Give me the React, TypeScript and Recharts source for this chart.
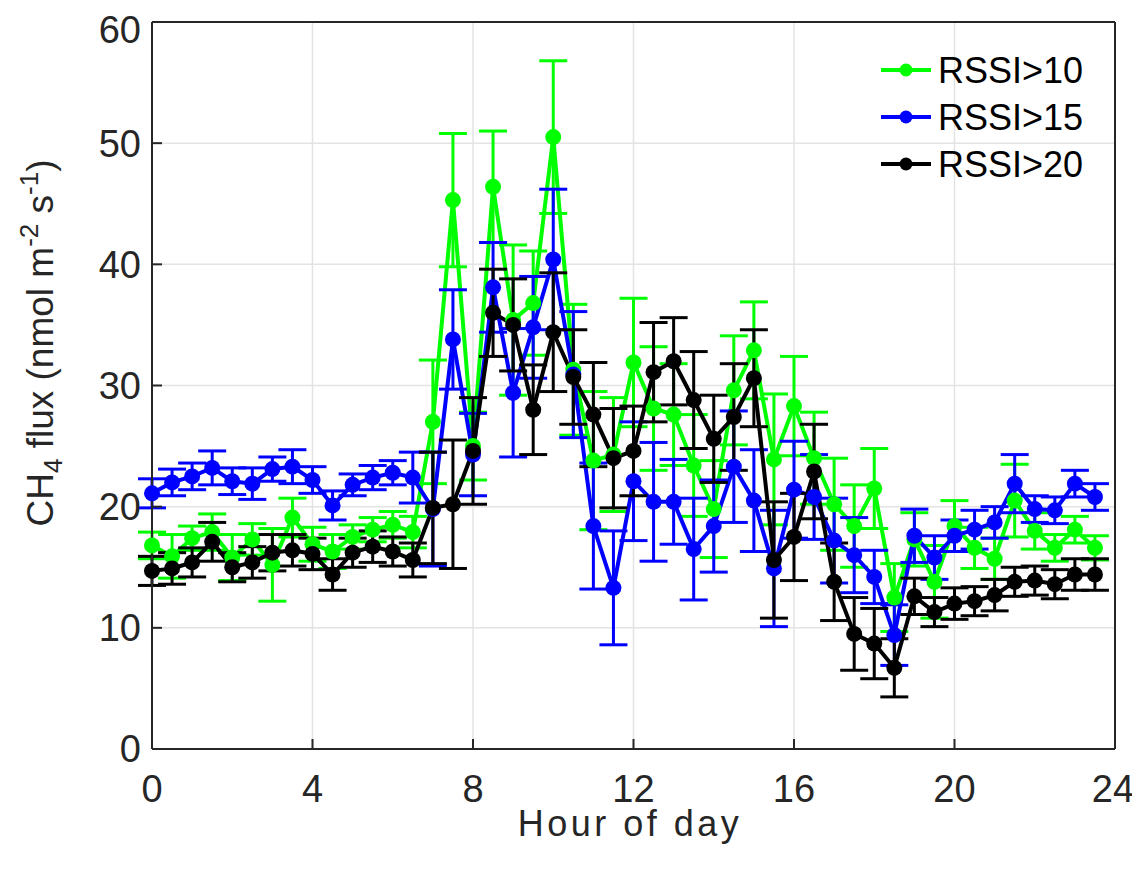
import { ComposedChart, Line, XAxis, YAxis, CartesianGrid, ErrorBar } from "recharts";

const hours = [
  0, 0.5, 1, 1.5, 2, 2.5, 3, 3.5, 4, 4.5, 5, 5.5, 6, 6.5, 7, 7.5, 8, 8.5, 9, 9.5, 10, 10.5, 11, 11.5,
  12, 12.5, 13, 13.5, 14, 14.5, 15, 15.5, 16, 16.5, 17, 17.5, 18, 18.5, 19, 19.5, 20, 20.5, 21, 21.5,
  22, 22.5, 23, 23.5,
];

// RSSI>10
const rssi10 = [
  16.8, 15.9, 17.4, 17.9, 15.8, 17.3, 15.2, 19.1, 16.9, 16.3, 17.5, 18.1, 18.5, 17.9, 27.0, 45.3,
  25.0, 46.4, 35.4, 36.8, 50.5, 31.3, 23.8, 24.3, 31.9, 28.1, 27.6, 23.4, 19.8, 29.6, 32.9, 23.9,
  28.3, 24.0, 20.2, 18.4, 21.5, 12.5, 17.3, 13.8, 18.4, 16.6, 15.7, 20.5, 18.0, 16.6, 18.1, 16.6,
];
const rssi10Err = [
  1.1, 1.8, 1.0, 1.5, 1.9, 1.3, 3.0, 1.6, 1.4, 1.4, 1.0, 1.0, 1.1, 1.3, 5.1, 5.5,
  2.8, 4.6, 6.2, 4.3, 6.3, 5.4, 5.7, 4.7, 5.3, 5.1, 4.2, 4.2, 4.0, 4.5, 4.0, 5.4,
  4.1, 3.8, 3.8, 3.4, 3.3, 2.8, 2.2, 3.0, 2.1, 1.7, 1.7, 3.0, 1.5, 1.1, 1.1, 1.0,
];

// RSSI>15
const rssi15 = [
  21.1, 22.0, 22.5, 23.2, 22.1, 21.9, 23.1, 23.3, 22.2, 20.1, 21.8, 22.4, 22.8, 22.4, 19.8, 33.8,
  24.3, 38.1, 29.4, 34.8, 40.4, 30.9, 18.4, 13.3, 22.1, 20.4, 20.4, 16.5, 18.4, 23.3, 20.5, 14.9,
  21.4, 20.8, 17.2, 16.0, 14.2, 9.4, 17.6, 15.8, 17.6, 18.1, 18.7, 21.9, 19.8, 19.7, 21.9, 20.8,
];
const rssi15Err = [
  1.2, 1.1, 1.1, 1.4, 1.1, 1.3, 1.0, 1.4, 1.1, 1.2, 0.9, 1.0, 1.0, 2.1, 4.7, 4.1,
  3.4, 3.7, 5.3, 4.2, 5.8, 5.2, 5.2, 4.7, 4.9, 4.9, 3.5, 4.2, 3.8, 4.6, 4.2, 4.8,
  4.0, 3.5, 3.5, 3.1, 2.2, 2.5, 2.2, 1.8, 1.3, 1.6, 1.3, 2.4, 1.1, 1.1, 1.1, 1.1,
];

// RSSI>20
const rssi20 = [
  14.7, 14.9, 15.4, 17.1, 15.0, 15.4, 16.2, 16.4, 16.1, 14.4, 16.2, 16.7, 16.3, 15.6, 19.9, 20.2,
  24.6, 36.0, 35.0, 28.0, 34.4, 30.7, 27.6, 24.0, 24.6, 31.1, 32.0, 28.8, 25.6, 27.4, 30.6, 15.6,
  17.5, 22.9, 13.8, 9.5, 8.7, 6.7, 12.6, 11.3, 12.0, 12.2, 12.7, 13.8, 13.9, 13.6, 14.4, 14.4,
];
const rssi20Err = [
  1.2, 1.3, 1.2, 1.6, 1.2, 1.3, 1.5, 1.3, 1.3, 1.3, 1.2, 1.3, 1.2, 1.4, 4.6, 5.3,
  4.4, 3.6, 3.8, 3.7, 4.9, 3.9, 4.3, 4.1, 3.7, 4.1, 3.6, 4.0, 3.6, 4.4, 4.0, 4.8,
  3.6, 3.9, 3.2, 3.0, 2.9, 2.4, 1.5, 1.2, 1.3, 1.2, 1.3, 1.2, 1.2, 1.2, 1.3, 1.3,
];

const xTicks = [0, 4, 8, 12, 16, 20, 24];
const yTicks = [0, 10, 20, 30, 40, 50, 60];

const series = [
  { key: "g", name: "RSSI>10", color: "#00ff00" },
  { key: "b", name: "RSSI>15", color: "#0000ff" },
  { key: "k", name: "RSSI>20", color: "#000000" },
];

const data = hours.map((h, i) => ({
  hour: h,
  g: rssi10[i],
  gErr: rssi10Err[i],
  b: rssi15[i],
  bErr: rssi15Err[i],
  k: rssi20[i],
  kErr: rssi20Err[i],
}));

const FONT = "'Liberation Sans', Arial, sans-serif";
const AXIS = "#262626";

const LegendBox = () => (
  <svg width={260} height={160} style={{ position: "absolute", left: 860, top: 30 }}>
    {series.map((s, i) => {
      const cy = 32 + i * 47;
      return (
        <g key={s.key}>
          <line x1={13} x2={63} y1={cy} y2={cy} stroke={s.color} strokeWidth={4} />
          <circle cx={38} cy={cy} r={6.5} fill={s.color} />
          <text x={70} y={cy + 12.5} fontSize={36} fontFamily={FONT} fill="#000">
            {s.name}
          </text>
        </g>
      );
    })}
  </svg>
);

const YLabel = () => (
  <text
    x={45}
    y={335}
    transform="rotate(-90, 45, 335)"
    textAnchor="middle"
    fontSize={37}
    fontFamily={FONT}
    fill={AXIS}
  >
    CH
    <tspan fontSize={26} dy={9}>4</tspan>
    <tspan dy={-9}> flux (nmol m</tspan>
    <tspan fontSize={26} dy={-15}>-2</tspan>
    <tspan dy={15}> s</tspan>
    <tspan fontSize={26} dy={-15}>-1</tspan>
    <tspan dy={15}>)</tspan>
  </text>
);

const XLabel = () => (
  <text
    x={622}
    y={828}
    textAnchor="middle"
    fontSize={36}
    fontFamily={FONT}
    fill={AXIS}
    style={{ letterSpacing: "3.5px" }}
  >
    Hour of day
  </text>
);

export default function App() {
  return (
    <div style={{ position: "relative", width: 1124, height: 853 }}>
      <ComposedChart
        width={1124}
        height={853}
        data={data}
        margin={{ top: 13, right: 16, bottom: 12, left: 44 }}
        style={{ background: "#fff" }}
      >
        <CartesianGrid stroke="#e3e3e3" strokeWidth={1.5} />
        <XAxis
          dataKey="hour"
          type="number"
          domain={[0, 24]}
          ticks={xTicks}
          height={100}
          axisLine={{ stroke: AXIS, strokeWidth: 2 }}
          tickLine={{ stroke: AXIS, strokeWidth: 2 }}
          tickSize={-10}
          tickMargin={36}
          tick={{ fill: AXIS, fontSize: 38, fontFamily: FONT }}
          label={{ content: () => <XLabel /> }}
        />
        <XAxis
          xAxisId="top"
          orientation="top"
          type="number"
          domain={[0, 24]}
          ticks={xTicks}
          height={1}
          axisLine={{ stroke: AXIS, strokeWidth: 2 }}
          tickLine={{ stroke: AXIS, strokeWidth: 2 }}
          tickSize={-10}
          tick={false}
        />
        <YAxis
          type="number"
          domain={[0, 60]}
          ticks={yTicks}
          width={100}
          axisLine={{ stroke: AXIS, strokeWidth: 2 }}
          tickLine={{ stroke: AXIS, strokeWidth: 2 }}
          tickSize={-10}
          tickMargin={21}
          tick={{ fill: AXIS, fontSize: 38, fontFamily: FONT }}
          label={{ content: () => <YLabel /> }}
        />
        <YAxis
          yAxisId="right"
          orientation="right"
          type="number"
          domain={[0, 60]}
          ticks={yTicks}
          width={1}
          axisLine={{ stroke: AXIS, strokeWidth: 2 }}
          tickLine={{ stroke: AXIS, strokeWidth: 2 }}
          tickSize={-10}
          tick={false}
        />
        {series.map((s) => (
          <Line
            key={s.key}
            dataKey={s.key}
            name={s.name}
            stroke={s.color}
            strokeWidth={4}
            type="linear"
            dot={{ r: 8, fill: s.color, stroke: s.color, strokeWidth: 0 }}
            activeDot={false}
            isAnimationActive={false}
          >
            <ErrorBar dataKey={`${s.key}Err`} width={14} strokeWidth={3} stroke={s.color} direction="y" />
          </Line>
        ))}
      </ComposedChart>
      <LegendBox />
    </div>
  );
}
